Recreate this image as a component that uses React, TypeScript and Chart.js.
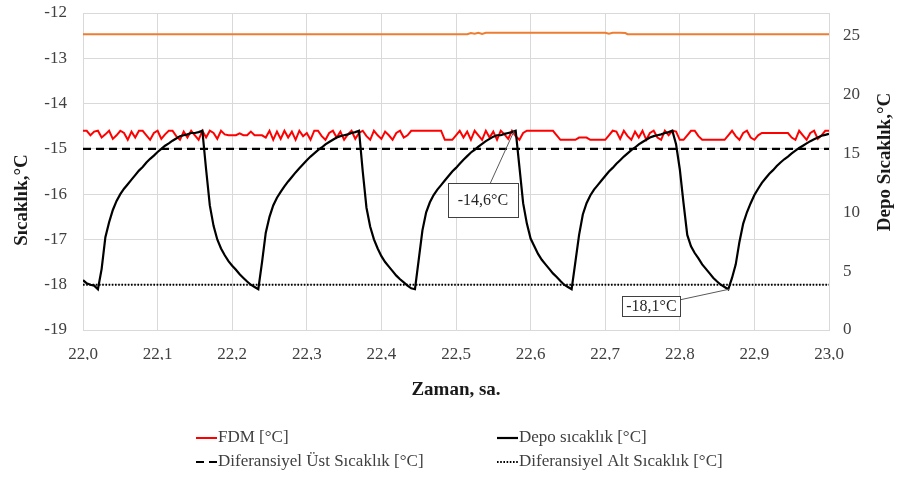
import React, { useEffect, useRef } from "react";
import { Chart, registerables } from "chart.js";

Chart.register(...registerables);

// ---------- DATA ----------
// Sampling: one reading every 0.005 h starting at 22.0 h (201 readings)
const START_HOUR = 22.0;
const SAMPLE_STEP_HOUR = 0.005;

const xAxisMin = 22.0;
const xAxisMax = 23.0;
const xTickStep = 0.1;

const leftAxisMin = -19;
const leftAxisMax = -12;
const rightAxisMin = 0;
const rightAxisMax = 26.9;
const rightTickValues = [0, 5, 10, 15, 20, 25];

// FDM [°C]
const fdmTemp = [
  -14.6, -14.6, -14.7, -14.62, -14.6, -14.75, -14.68, -14.6, -14.78, -14.7,
  -14.6, -14.65, -14.8, -14.62, -14.75, -14.6, -14.6, -14.7, -14.8, -14.65,
  -14.6, -14.78, -14.68, -14.6, -14.6, -14.72, -14.8, -14.62, -14.75, -14.6,
  -14.7, -14.8, -14.6, -14.75, -14.6, -14.65, -14.78,
  -14.6, -14.68, -14.7, -14.7, -14.7, -14.66, -14.7, -14.7, -14.62, -14.7, -14.7, -14.7, -14.75,
  -14.6, -14.8, -14.62, -14.78, -14.6, -14.75, -14.62, -14.8, -14.6, -14.72,
  -14.65, -14.8, -14.6, -14.6, -14.72, -14.8, -14.65, -14.6, -14.75, -14.62,
  -14.8, -14.68, -14.6, -14.78, -14.65, -14.6, -14.72, -14.8, -14.6, -14.7,
  -14.78, -14.62, -14.7, -14.8, -14.65, -14.6, -14.75, -14.7,
  -14.6, -14.6, -14.6, -14.6, -14.6, -14.6, -14.6, -14.6, -14.6,
  -14.8, -14.8, -14.8, -14.7, -14.6,
  -14.75, -14.62, -14.8, -14.6, -14.7, -14.8, -14.6, -14.75, -14.62, -14.8, -14.6, -14.68, -14.78, -14.6, -14.72, -14.8, -14.65,
  -14.6, -14.6, -14.6, -14.6, -14.6, -14.6, -14.6, -14.6,
  -14.7,
  -14.8, -14.8, -14.8, -14.8, -14.8,
  -14.75, -14.75, -14.75,
  -14.8, -14.8, -14.8, -14.8, -14.8,
  -14.7, -14.6, -14.62, -14.78, -14.6, -14.72, -14.8, -14.62, -14.75, -14.6, -14.8, -14.65, -14.6, -14.75,
  -14.8, -14.6, -14.7, -14.6, -14.62, -14.8, -14.8, -14.7, -14.6, -14.6, -14.72, -14.8, -14.8,
  -14.8, -14.8, -14.8, -14.8, -14.8,
  -14.7, -14.6, -14.72, -14.8, -14.65, -14.6, -14.75, -14.8, -14.7,
  -14.65, -14.65, -14.65, -14.65, -14.65, -14.65, -14.65, -14.65,
  -14.75, -14.8, -14.6, -14.7, -14.8, -14.65, -14.6, -14.78, -14.7, -14.6, -14.6,
];

// Depo sıcaklık [°C]
const depoTemp = [
  -17.9, -17.97, -18.0, -18.02, -18.1,
  -17.65, -16.95, -16.62, -16.35, -16.15, -16.0, -15.88, -15.78, -15.68, -15.58,
  -15.48, -15.4, -15.3, -15.22, -15.15, -15.07, -15.0, -14.93, -14.88, -14.82,
  -14.77, -14.72, -14.7, -14.68, -14.65, -14.65, -14.63, -14.6,
  -15.45, -16.25, -16.7, -17.0, -17.2, -17.35, -17.48, -17.58, -17.67, -17.77,
  -17.85, -17.93, -18.0, -18.05, -18.1,
  -17.5, -16.85, -16.5, -16.25, -16.08, -15.95, -15.83, -15.72, -15.62, -15.52,
  -15.43, -15.34, -15.25, -15.17, -15.1, -15.03, -14.97, -14.9, -14.85, -14.8,
  -14.75, -14.72, -14.7, -14.68, -14.65, -14.63, -14.6,
  -15.5, -16.3, -16.72, -17.0, -17.2, -17.37, -17.5, -17.6, -17.7, -17.8,
  -17.88, -17.95, -18.02, -18.08, -18.1,
  -17.45, -16.8, -16.4, -16.18, -16.02, -15.9, -15.8, -15.7, -15.6, -15.5,
  -15.42, -15.33, -15.24, -15.16, -15.08, -15.02, -14.95, -14.89, -14.83, -14.78,
  -14.73, -14.7, -14.7, -14.67, -14.65, -14.63, -14.6,
  -15.4, -16.2, -16.65, -16.98, -17.15, -17.32, -17.45, -17.55, -17.65, -17.75,
  -17.83, -17.92, -18.0, -18.05, -18.1,
  -17.5, -16.9, -16.45, -16.2, -16.03, -15.9, -15.8, -15.7, -15.6, -15.5,
  -15.42, -15.33, -15.25, -15.17, -15.1, -15.03, -14.97, -14.9, -14.85, -14.8,
  -14.75, -14.72, -14.7, -14.68, -14.65, -14.63, -14.6,
  -14.9, -15.45, -16.2, -16.9, -17.15, -17.3, -17.42, -17.55, -17.65, -17.75,
  -17.85, -17.93, -18.0, -18.05, -18.1,
  -17.85, -17.55, -17.05, -16.65, -16.4, -16.2, -16.02, -15.88, -15.75, -15.65,
  -15.55, -15.47, -15.38, -15.3, -15.23, -15.17, -15.1, -15.04, -14.98, -14.93,
  -14.88, -14.83, -14.79, -14.75, -14.71, -14.69, -14.67,
];

// Ambient line (secondary axis, not in legend)
const ambientTime = [22.0, 22.515, 22.52, 22.525, 22.53, 22.535, 22.54, 22.545, 22.7, 22.705, 22.71, 22.72, 22.727, 22.73, 23.0];
const ambientTemp = [25.1, 25.1, 25.2, 25.15, 25.22, 25.12, 25.22, 25.22, 25.22, 25.14, 25.22, 25.22, 25.2, 25.1, 25.1];

// Differential limits
const upperDiffTemp = -15.0;
const lowerDiffTemp = -18.0;

// Callouts
const calloutTexts = ["-14,6°C", "-18,1°C"];
const calloutPointX = [22.578, 22.866];
const calloutPointY = [-14.6, -18.1];
const calloutLabelX = [22.536, 22.762];
const calloutLabelY = [-16.12, -18.47];

// Text
const seriesLabels = ["FDM [°C]", "Depo sıcaklık [°C]", "Diferansiyel Üst Sıcaklık [°C]", "Diferansiyel Alt Sıcaklık [°C]"];
const leftTitle = "Sıcaklık,°C";
const rightTitle = "Depo Sıcaklık,°C";
const xTitle = "Zaman, sa.";

// ---------- STYLE ----------
const SERIF = '"Liberation Serif", "Times New Roman", serif';
const TICK_FONT = { family: SERIF, size: 17 };
const GRID_COLOR = "#d9d9d9";
const TEXT_COLOR = "#404040";

const sampleTime = (i: number) => START_HOUR + i * SAMPLE_STEP_HOUR;

const overlayPlugin = {
  id: "overlay",
  afterDraw(chart: any) {
    const ctx: CanvasRenderingContext2D = chart.ctx;
    const area = chart.chartArea;
    const xs = chart.scales.x;
    const ys = chart.scales.y;
    ctx.save();

    // callouts
    const calloutPad = [
      { px: 10, py: 9 },
      { px: 4, py: 2 },
    ];
    calloutTexts.forEach((text, i) => {
      const ax = xs.getPixelForValue(calloutPointX[i]);
      const ay = ys.getPixelForValue(calloutPointY[i]);
      const bx = xs.getPixelForValue(calloutLabelX[i]);
      const by = ys.getPixelForValue(calloutLabelY[i]);
      ctx.font = `16px ${SERIF}`;
      const tw = ctx.measureText(text).width;
      const w = Math.round(tw + calloutPad[i].px * 2);
      const h = Math.round(16 + calloutPad[i].py * 2);
      ctx.strokeStyle = "#595959";
      ctx.lineWidth = 1;
      ctx.beginPath();
      ctx.moveTo(ax, ay);
      ctx.lineTo(bx, by);
      ctx.stroke();
      const rx = Math.round(bx - w / 2) + 0.5;
      const ry = Math.round(by - h / 2) + 0.5;
      ctx.fillStyle = "#ffffff";
      ctx.fillRect(rx, ry, w, h);
      ctx.strokeStyle = "#404040";
      ctx.strokeRect(rx, ry, w, h);
      ctx.fillStyle = "#262626";
      ctx.textAlign = "center";
      ctx.textBaseline = "middle";
      ctx.fillText(text, bx, by + 1);
    });

    // axis titles
    ctx.fillStyle = "#1a1a1a";
    ctx.font = `bold 19px ${SERIF}`;
    ctx.textAlign = "center";
    ctx.textBaseline = "middle";
    ctx.fillText(xTitle, (area.left + area.right) / 2, area.bottom + 60);

    ctx.save();
    ctx.translate(area.left - 61, area.top + 187);
    ctx.rotate(-Math.PI / 2);
    ctx.fillText(leftTitle, 0, 0);
    ctx.restore();

    ctx.save();
    ctx.translate(area.right + 56, area.top + 149);
    ctx.rotate(-Math.PI / 2);
    ctx.fillText(rightTitle, 0, 0);
    ctx.restore();

    // legend (2 x 2 grid)
    const colX = [196, 497];
    const rowY = [438, 462];
    const items = chart.data.datasets.filter((d: any) => d.legendSlot !== undefined);
    items.forEach((d: any) => {
      const [col, row] = d.legendSlot;
      const x = colX[col];
      const y = rowY[row];
      ctx.strokeStyle = d.borderColor;
      ctx.lineWidth = d.borderWidth;
      ctx.setLineDash(d.borderDash || []);
      ctx.beginPath();
      ctx.moveTo(x, y);
      ctx.lineTo(x + 21, y);
      ctx.stroke();
      ctx.setLineDash([]);
      ctx.fillStyle = TEXT_COLOR;
      ctx.font = `17px ${SERIF}`;
      ctx.textAlign = "left";
      ctx.textBaseline = "middle";
      ctx.fillText(d.label, x + 22, y);
    });

    ctx.restore();
  },
};

const fixVerticalPadding = (s: any, width: number) => {
  s.width = width;
  s.paddingTop = 0;
  s.paddingBottom = 0;
};

export default function App() {
  const canvasRef = useRef<HTMLCanvasElement | null>(null);

  useEffect(() => {
    if (!canvasRef.current) return;

    const fdmData = fdmTemp.map((v, i) => ({ x: sampleTime(i), y: v }));
    const depoData = depoTemp.map((v, i) => ({ x: sampleTime(i), y: v }));
    const ambientData = ambientTime.map((t, i) => ({ x: t, y: ambientTemp[i] }));
    const upperData = [
      { x: xAxisMin, y: upperDiffTemp },
      { x: xAxisMax, y: upperDiffTemp },
    ];
    const lowerData = [
      { x: xAxisMin, y: lowerDiffTemp },
      { x: xAxisMax, y: lowerDiffTemp },
    ];

    const chart = new Chart(canvasRef.current, {
      type: "line",
      data: {
        datasets: [
          {
            label: seriesLabels[2],
            data: upperData,
            borderColor: "#000000",
            borderWidth: 2.2,
            borderDash: [8, 5],
            pointRadius: 0,
            yAxisID: "y",
            legendSlot: [0, 1],
          } as any,
          {
            label: seriesLabels[3],
            data: lowerData,
            borderColor: "#000000",
            borderWidth: 2,
            borderDash: [1.6, 1.6],
            pointRadius: 0,
            yAxisID: "y",
            legendSlot: [1, 1],
          } as any,
          {
            label: seriesLabels[1],
            data: depoData,
            borderColor: "#000000",
            borderWidth: 2.2,
            pointRadius: 0,
            yAxisID: "y",
            legendSlot: [1, 0],
          } as any,
          {
            label: seriesLabels[0],
            data: fdmData,
            borderColor: "#ff0000",
            borderWidth: 2,
            pointRadius: 0,
            yAxisID: "y",
            legendSlot: [0, 0],
          } as any,
          {
            label: "Ortam",
            data: ambientData,
            borderColor: "#ed7d31",
            borderWidth: 2,
            pointRadius: 0,
            yAxisID: "y2",
          } as any,
        ],
      },
      options: {
        responsive: false,
        animation: false,
        events: [],
        layout: { padding: { left: 0, right: 0, top: 13, bottom: 119 } },
        plugins: {
          legend: { display: false },
          tooltip: { enabled: false },
        },
        scales: {
          x: {
            type: "linear",
            min: xAxisMin,
            max: xAxisMax,
            ticks: {
              stepSize: xTickStep,
              font: TICK_FONT,
              color: TEXT_COLOR,
              padding: 14,
              maxRotation: 0,
              callback: (v: any) => Number(v).toFixed(1).replace(".", ","),
            },
            grid: { color: GRID_COLOR, drawTicks: false, lineWidth: 1 },
            border: { color: GRID_COLOR },
            afterFit: (s: any) => {
              s.height = 30;
              s.paddingLeft = 0;
              s.paddingRight = 0;
            },
          },
          y: {
            type: "linear",
            position: "left",
            min: leftAxisMin,
            max: leftAxisMax,
            ticks: {
              stepSize: 1,
              font: TICK_FONT,
              color: TEXT_COLOR,
              padding: 16,
              callback: (v: any) => String(v),
            },
            grid: { color: GRID_COLOR, drawTicks: false, lineWidth: 1 },
            border: { color: GRID_COLOR },
            afterFit: (s: any) => fixVerticalPadding(s, 83),
          },
          y2: {
            type: "linear",
            position: "right",
            min: rightAxisMin,
            max: rightAxisMax,
            ticks: {
              stepSize: 5,
              font: TICK_FONT,
              color: TEXT_COLOR,
              padding: 14,
              includeBounds: false,
              callback: (v: any) => String(v),
            } as any,
            afterBuildTicks: (s: any) => {
              s.ticks = rightTickValues.map((v) => ({ value: v }));
            },
            grid: { display: false, drawTicks: false },
            border: { color: GRID_COLOR },
            afterFit: (s: any) => fixVerticalPadding(s, 69),
          },
        },
      } as any,
      plugins: [overlayPlugin],
    });

    return () => chart.destroy();
  }, []);

  return (
    <div style={{ position: "absolute", left: 0, top: 0, width: 898, height: 479, background: "#fff" }}>
      <canvas ref={canvasRef} width={898} height={479} style={{ display: "block" }} />
    </div>
  );
}
